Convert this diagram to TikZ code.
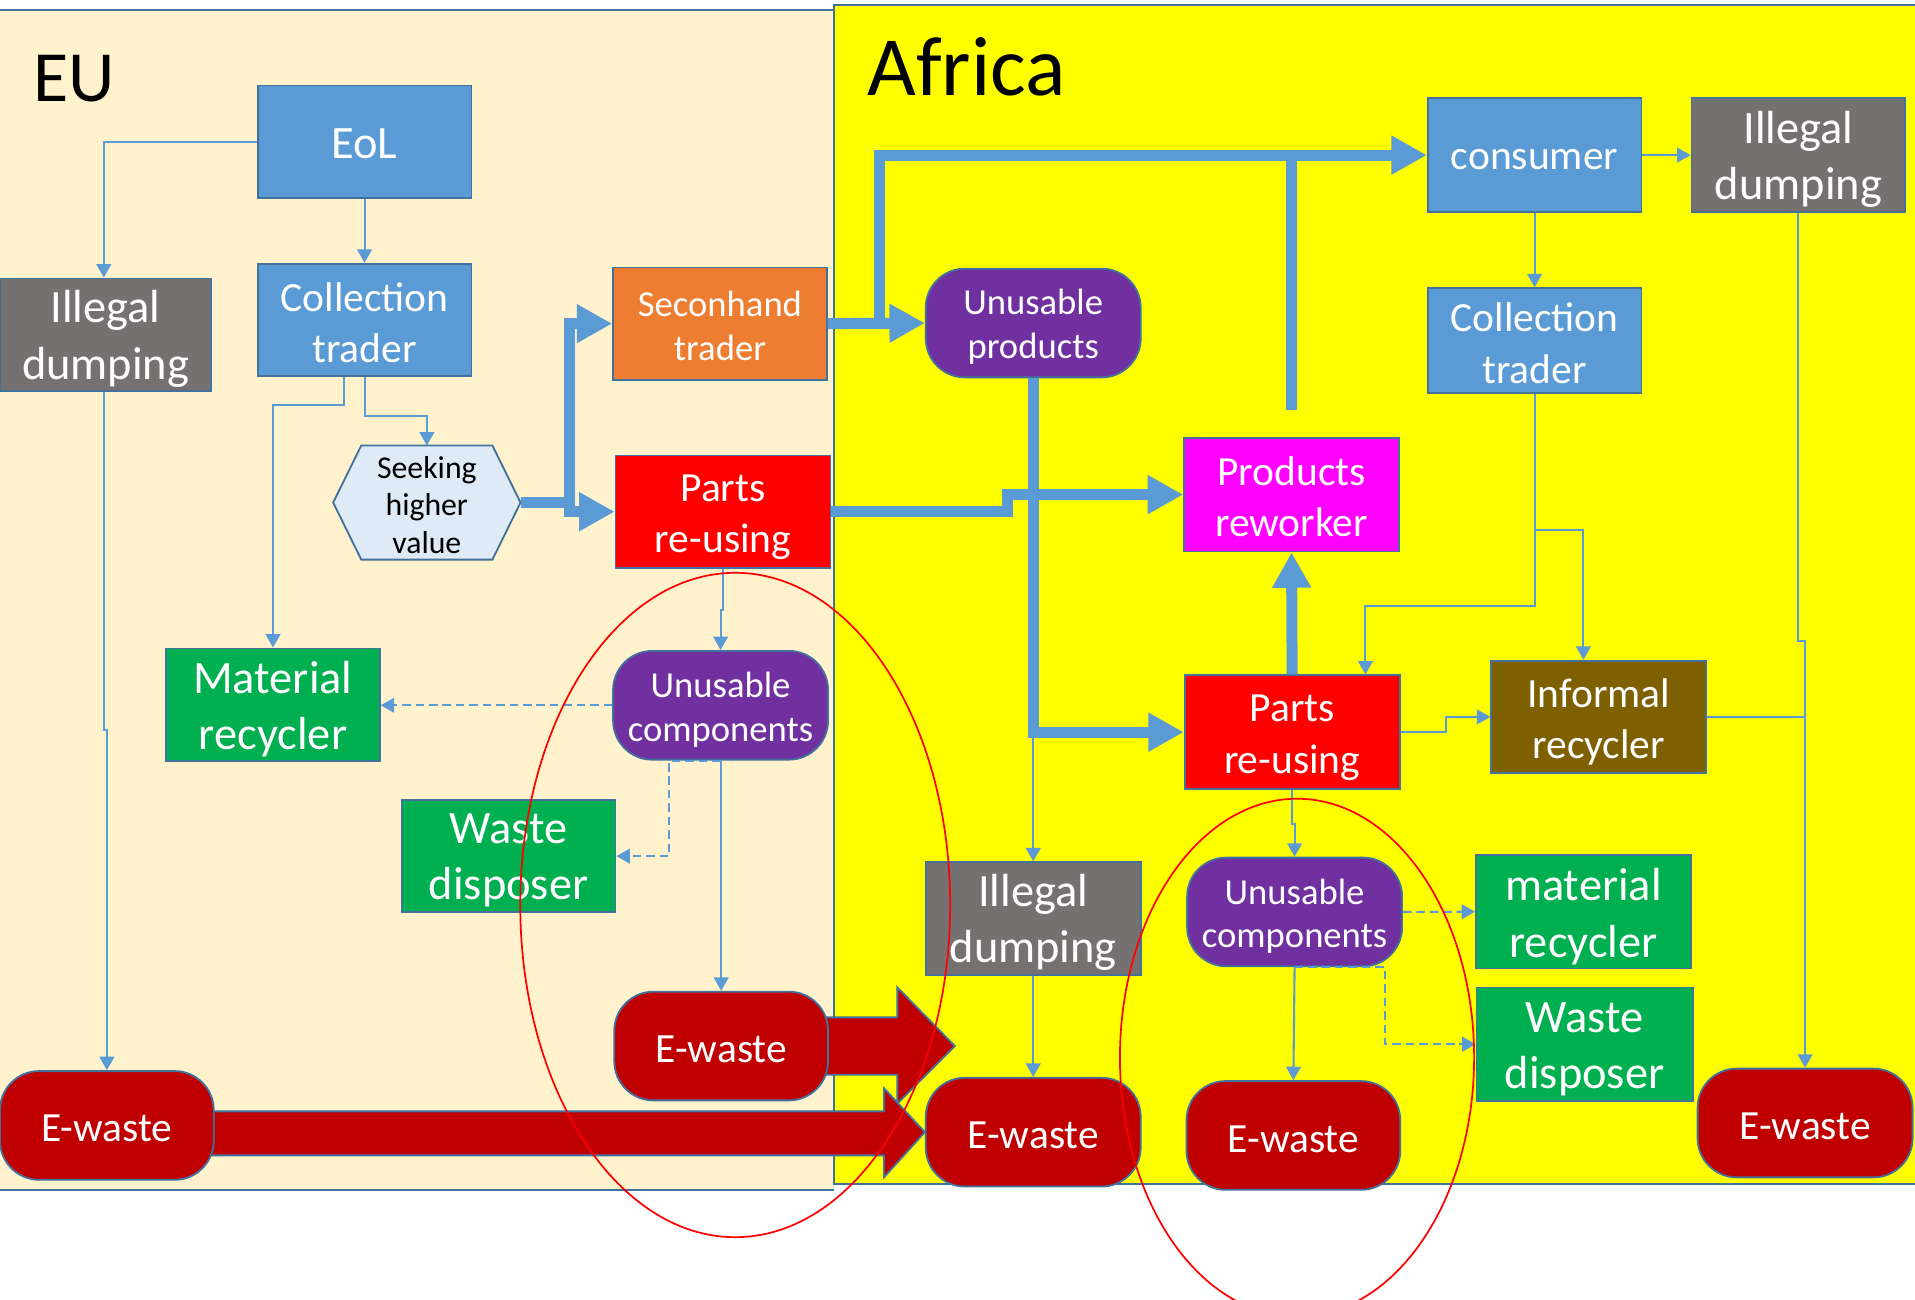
\documentclass[tikz,border=0pt]{standalone}
\usepackage{fontspec}
\setmainfont{Carlito}
\usetikzlibrary{arrows.meta,calc}
\definecolor{bord}{HTML}{41719C}
\definecolor{cblue}{HTML}{5B9BD5}
\definecolor{cgray}{HTML}{767171}
\definecolor{corange}{HTML}{ED7D31}
\definecolor{cred}{HTML}{FF0000}
\definecolor{cgreen}{HTML}{00B050}
\definecolor{cpurple}{HTML}{7030A0}
\definecolor{cdarkred}{HTML}{C00000}
\definecolor{cmagenta}{HTML}{FF00FF}
\definecolor{cbrown}{HTML}{7F6000}
\definecolor{chex}{HTML}{DEEBF7}
\definecolor{ceu}{HTML}{FFF2CC}
\definecolor{cyel}{HTML}{FFFF00}
\pgfdeclarelayer{back}
\pgfsetlayers{back,main}
\newcommand\dn[2][3.5pt]{\raisebox{-#1}[\height][\depth]{#2}}
\begin{document}
\begin{tikzpicture}[x=1pt,y=-1pt,
 box/.style={rectangle, draw=bord, line width=1.5pt, minimum width=175pt, minimum height=92pt, inner sep=0pt, align=center, text=white},
 rbox/.style={box, rounded corners=32pt, minimum height=89pt, minimum width=176pt},
 fA/.style={font=\fontsize{38}{46}\selectfont},
 fB/.style={font=\fontsize{34}{42}\selectfont},
 fC/.style={font=\fontsize{30}{36}\selectfont},
 tline/.style={draw=cblue, line width=1.7pt},
 tarrow/.style={tline, -{Triangle[length=11pt,width=12pt]}},
 dasharrow/.style={tarrow, dash pattern=on 7pt off 4pt},
 fatline/.style={draw=cblue, line width=9pt},
 fatarrow/.style={fatline, -{Triangle[length=29pt,width=30pt]}},
 redarr/.style={fill=cdarkred, draw=bord, line width=1.5pt},
 region/.style={draw=bord, line width=1.5pt}
]
\useasboundingbox (0,0) rectangle (1568,1064);

% ---------- EU nodes ----------
\node[box, fill=cblue, fA] (eol) at (298.5,116) {\dn[1.5pt]{EoL}};
\node[box, fill=cgray, fA, minimum width=173pt] (idEU) at (86.5,274) {\dn{Illegal}\\\dn{dumping}};
\node[box, fill=cblue, fB] (ctEU) at (298.5,262) {\dn[2.5pt]{Collection}\\\dn[2.5pt]{trader}};
\node[box, fill=corange, fC] (sh) at (589.5,265) {\dn[1.5pt]{Seconhand}\\\dn[1.5pt]{trader}};
\node[inner sep=0pt, minimum width=153pt, minimum height=93pt, align=center, font=\fontsize{26}{31}\selectfont] (hex) at (349.5,411.5) {\dn[2pt]{Seeking}\\\dn[2pt]{higher}\\\dn[2pt]{value}};
\node[box, fill=cred, fB, minimum width=176pt] (prEU) at (592,419) {\dn[4.5pt]{Parts}\\\dn[4.5pt]{re-using}};
\node[box, fill=cgreen, fA] (mrEU) at (223.5,577) {\dn{Material}\\\dn{recycler}};
\node[rbox, fill=cpurple, fC] (ucEU) at (590,577.5) {\dn{Unusable}\\\dn{components}};
\node[box, fill=cgreen, fA] (wdEU) at (416.5,701) {\dn{Waste}\\\dn{disposer}};
\node[rbox, fill=cdarkred, fB, minimum width=175pt] (ewEU1) at (590.5,856.5) {\dn[2.5pt]{E-waste}};
\node[rbox, fill=cdarkred, fB, minimum width=175pt] (ewEU2) at (87.5,921.5) {\dn[2.5pt]{E-waste}};

% ---------- Africa nodes ----------
\node[box, fill=cblue, fB, minimum height=93pt] (cons) at (1256.5,127) {\dn{consumer}};
\node[box, fill=cgray, fA, minimum height=93pt] (idAF1) at (1472.5,127) {\dn{Illegal}\\\dn{dumping}};
\node[rbox, fill=cpurple, fC] (up) at (846,264.5) {\dn[3pt]{Unusable}\\\dn[3pt]{products}};
\node[box, fill=cblue, fB, minimum height=86pt] (ctAF) at (1256.5,279) {\dn[2pt]{Collection}\\\dn[2pt]{trader}};
\node[box, fill=cmagenta, fB, minimum height=93pt, minimum width=176pt] (prw) at (1057.5,405) {\dn[1.5pt]{Products}\\\dn[1.5pt]{reworker}};
\node[box, fill=cred, fB, minimum height=93pt, minimum width=176pt] (prAF) at (1058,599.5) {\dn[4.5pt]{Parts}\\\dn[4.5pt]{re-using}};
\node[box, fill=cbrown, fB, minimum width=176pt] (ir) at (1309,587) {\dn[4pt]{Informal}\\\dn[4pt]{recycler}};
\node[box, fill=cgray, fA, minimum width=176pt] (idAF2) at (846,752) {\dn{Illegal}\\\dn{dumping}};
\node[rbox, fill=cpurple, fC] (ucAF) at (1060,746.7) {\dn{Unusable}\\\dn{components}};
\node[box, fill=cgreen, fA, minimum height=93pt, minimum width=176pt] (mrAF) at (1296.5,746.5) {\dn[4pt]{material}\\\dn[4pt]{recycler}};
\node[box, fill=cgreen, fA, minimum height=93pt, minimum width=177pt] (wdAF) at (1297.5,855) {\dn[4.5pt]{Waste}\\\dn[4.5pt]{disposer}};
\node[rbox, fill=cdarkred, fB, minimum width=176pt] (ewAF1) at (846,927) {\dn[2.5pt]{E-waste}};
\node[rbox, fill=cdarkred, fB, minimum width=175pt] (ewAF2) at (1059,929.7) {\dn[3pt]{E-waste}};
\node[rbox, fill=cdarkred, fB, minimum width=176pt] (ewAF3) at (1478,919.5) {\dn[2.5pt]{E-waste}};

% region labels
\node[anchor=base west, inner sep=0pt, font=\fontsize{59}{70}\selectfont] (lEU) at (27,83) {EU};
\node[anchor=base west, inner sep=0pt, font=\fontsize{69}{82}\selectfont] (lAF) at (710,78) {Africa};

% ---------- background layer ----------
\begin{pgfonlayer}{back}
\fill[ceu] (0,8.5) rectangle (683,974.5);
\draw[region] (-2,8.5) -- (683,8.5) (683,974.5) -- (-2,974.5);
\fill[cyel] (683,4) rectangle (1570,969.5);
\draw[region] (1572,4) -- (683,4) -- (683,969.5) -- (1572,969.5);
% hexagon outline of "Seeking higher value"
\filldraw[fill=chex, draw=bord, line width=1.5pt] (hex.west) -- ([xshift=23pt]hex.north west) -- ([xshift=-23pt]hex.north east) -- (hex.east) -- ([xshift=-23pt]hex.south east) -- ([xshift=23pt]hex.south west) -- cycle;
% red block arrows
\filldraw[redarr] ([xshift=-8pt]ewEU1.east) ++(0,-23.5) -- ++(64,0) -- ++(0,-24.5) -- ++(47,48) -- ++(-47,47) -- ++(0,-23.5) -- ++(-64,0) -- cycle;
\filldraw[redarr] ($(ewEU2.east)+(-10,-11.5)$) -- ($(ewAF1.west)+(-33.5,-17)$) -- ($(ewAF1.west)+(-33.5,-36)$) -- (ewAF1.west) -- ($(ewAF1.west)+(-33.5,37)$) -- ($(ewAF1.west)+(-33.5,19)$) -- ($(ewEU2.east)+(-10,24.5)$) -- cycle;
\end{pgfonlayer}

% ---------- EU thin connectors ----------
\draw[tarrow] (eol.west) -| ([xshift=-1.5pt]idEU.north);
\draw[tarrow] (eol.south) -- (ctEU.north);
\draw[tarrow] ([xshift=-17pt]ctEU.south) -- ++(0,22.5) -| (mrEU.north);
\draw[tarrow] (ctEU.south) -- ++(0,32) -| (hex.north);
\draw[tarrow] ([xshift=-1.5pt]idEU.south) -- ++(0,277) -| (ewEU2.north);
\draw[tarrow] (prEU.south) -- ++(0,34) -| (ucEU.north);
\draw[dasharrow] (ucEU.west) -- (ucEU.west -| mrEU.east);
\draw[dasharrow] (ucEU.south) -- ++(-42,0) |- (wdEU.east);
\draw[tarrow] (ucEU.south) -- ++(0,96) -| (ewEU1.north);

% ---------- Africa thin connectors ----------
\draw[tarrow] (up.south) -- (idAF2.north);
\draw[tarrow] (cons.east) -- (idAF1.west);
\draw[tarrow] (cons.south) -- (ctAF.north);
\draw[tarrow] (ctAF.south) -- ++(0,173.5) -| ([xshift=60pt]prAF.north);
\draw[tarrow] (ctAF.south) -- ++(0,111.5) -| ([xshift=-12.5pt]ir.north);
\draw[tarrow] (idAF1.south) -- ++(0,350.5) -| (ewAF3.north);
\draw[tline] (ir.east) -- (ir.east -| ewAF3.north);
\draw[tarrow] (prAF.east) -- ++(37.5,0) |- (ir.west);
\draw[tarrow] (idAF2.south) -- (ewAF1.north);
\draw[tarrow] (prAF.south) -- ++(0,28) -| (ucAF.north);
\draw[dasharrow] (ucAF.east) -- (mrAF.west);
\draw[tarrow] (ucAF.south) -- (ewAF2.north);
\draw[dasharrow] (ucAF.south) -- ++(74,0) |- (wdAF.west);

% ---------- thick connectors ----------
\draw[fatarrow] (hex.east) -- ++(40,0) |- (sh.west);
\draw[fatarrow] (hex.east) -- ++(40,0) |- (prEU.west);
\draw[fatarrow] (sh.east) -- (up.west);
\draw[fatarrow] (sh.east) -- ++(42,0) |- (cons.west);
\draw[fatline] ([yshift=22pt]prw.north) -- (prw.north |- cons.west);
\draw[fatarrow] (prEU.east) -- ++(144,0) |- (prw.west);
\draw[fatarrow] (up.south) |- (prAF.west);
\draw[fatarrow] (prAF.north) -- (prw.south);

% ---------- red ellipses ----------
\draw[red, line width=1.4pt] (602,741) ellipse [x radius=176pt, y radius=272pt];
\draw[red, line width=1.4pt] (1062,866) ellipse [x radius=145pt, y radius=212pt];
\end{tikzpicture}
\end{document}
